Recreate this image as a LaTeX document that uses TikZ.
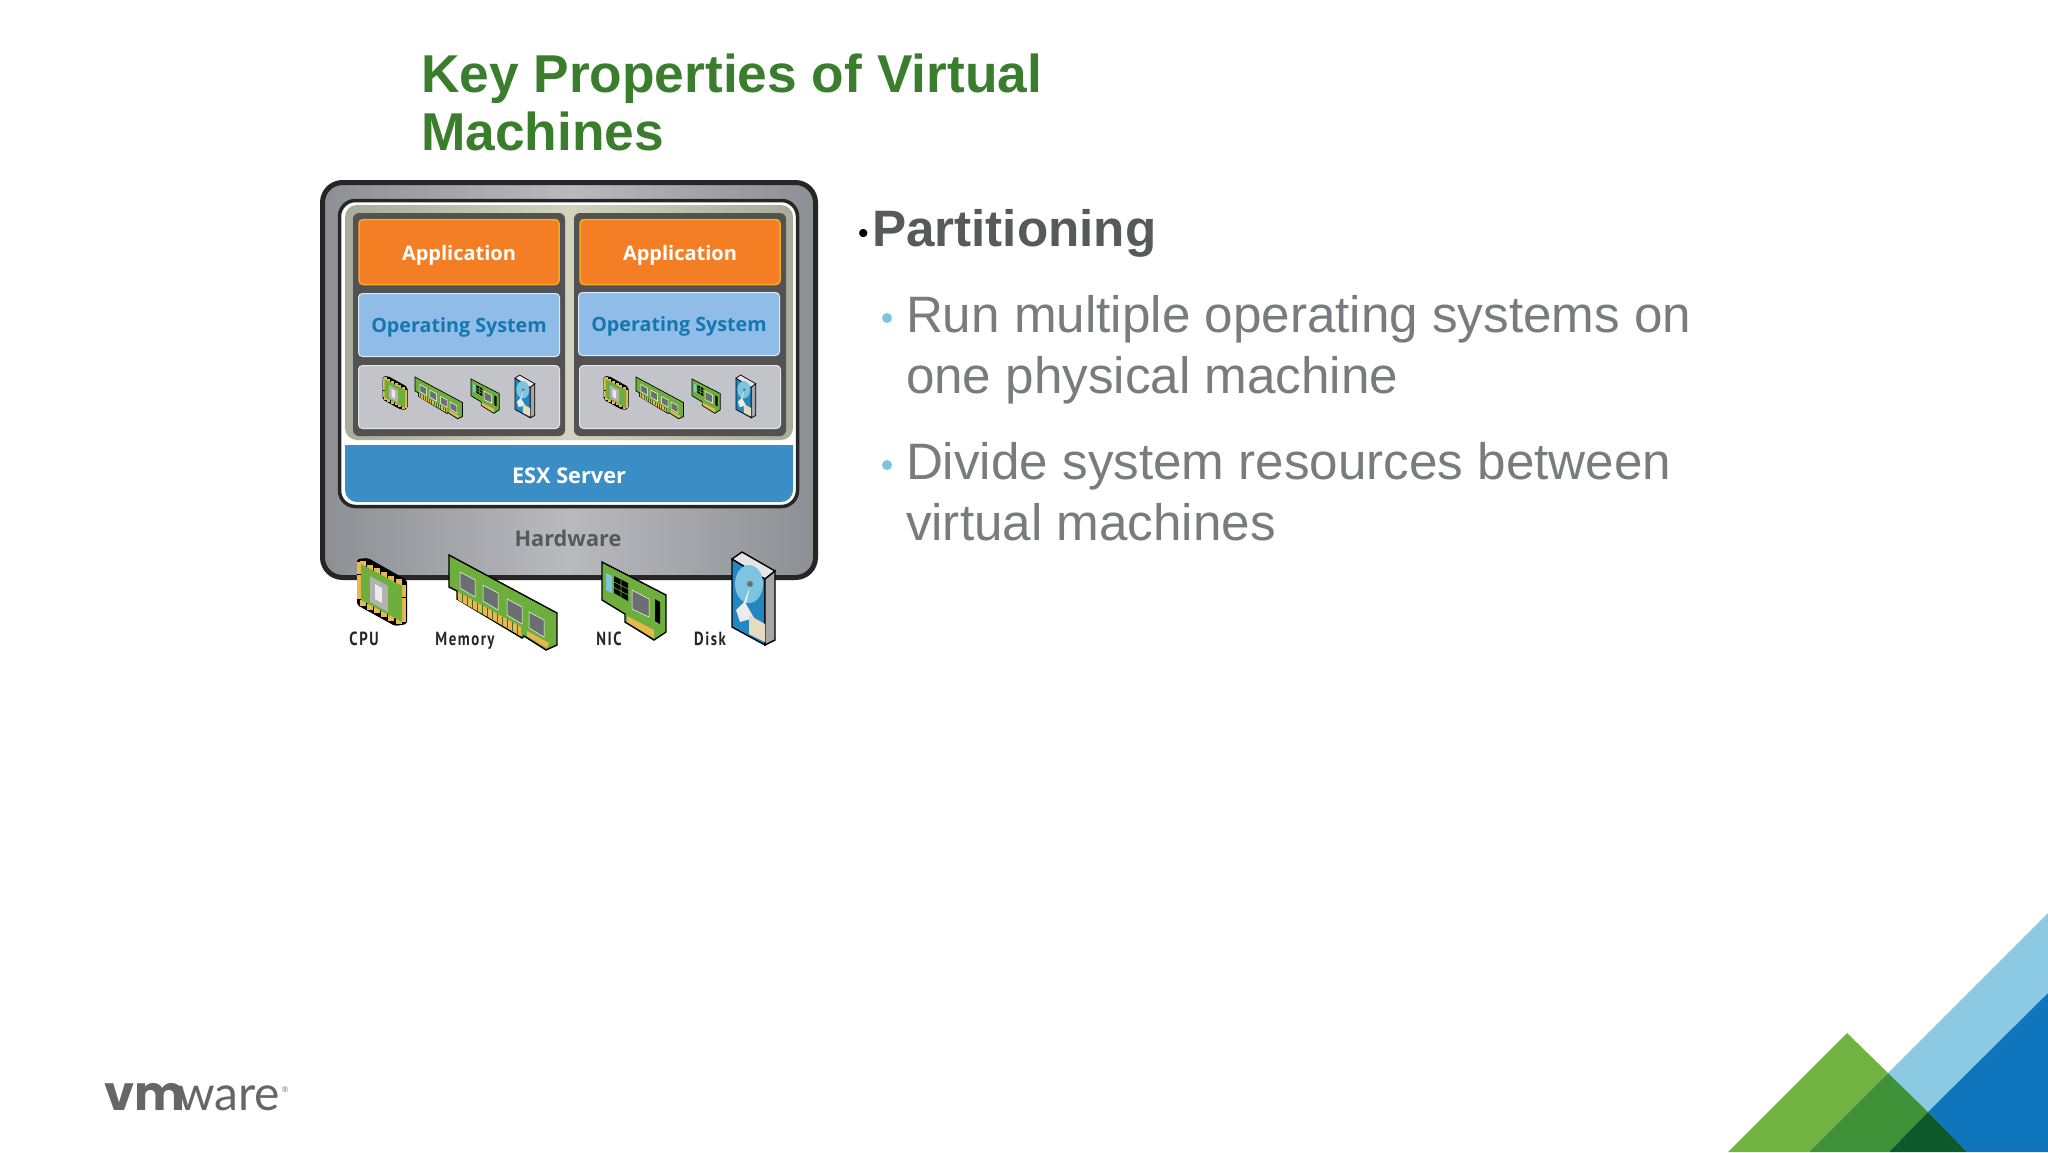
\documentclass[tikz,border=0pt]{standalone}
\usepackage{fontspec}
\setmainfont{Liberation Sans}
\newfontfamily\boxfont{Open Sans}
\newfontfamily\tagfont[FakeStretch=0.78,LetterSpace=8]{PT Sans}
\newfontfamily\logofont{Poppins}
\newfontfamily\logothin{Lato}
\definecolor{titlegreen}{HTML}{3A7D2C}
\definecolor{headgray}{HTML}{58595B}
\definecolor{bodygray}{HTML}{7A7B7E}
\definecolor{bulletblue}{HTML}{7CC4E0}
\definecolor{chipgreen}{HTML}{6DAE3C}
\definecolor{pingold}{HTML}{E8B84E}
\definecolor{chipgray}{HTML}{6B6E72}
\definecolor{diskblue}{HTML}{2388C2}
\definecolor{esxblue}{HTML}{3A8DC5}
\definecolor{frameedge}{HTML}{8C8F94}
\definecolor{framemid}{HTML}{B9BABE}
\definecolor{khakiedge}{HTML}{A9AC9A}
\definecolor{khakimid}{HTML}{D2D3BD}
\definecolor{apporange}{HTML}{F47E24}
\definecolor{appedge}{HTML}{F9A825}
\definecolor{osblue}{HTML}{8FBDE8}
\definecolor{ostext}{HTML}{1577B0}
\definecolor{resgray}{HTML}{C3C4CA}
\definecolor{leafgreen}{HTML}{71B340}
\definecolor{midgreen}{HTML}{3F9237}
\definecolor{deepgreen}{HTML}{0C5A2A}
\definecolor{skyband}{HTML}{8CCAE4}
\definecolor{deepblue}{HTML}{0F75BD}
\def\iconw{1.4pt}
\usetikzlibrary{calc}
\tikzset{
    cpuicon/.pic={
        \fill[black,rounded corners=2pt] (-1,1) -- (10,0) -- (49,22) -- (49,66) -- (37,68) -- (-1,47) -- cycle;
        \foreach \t in {0.08,0.24,0.40,0.56,0.72,0.88} {
            \fill[pingold] ($(1,4)!\t!(46,27)$) +(-3,-3) rectangle +(3,3);
            \fill[pingold] ($(1,43)!\t!(46,66)$) +(-3,-3) rectangle +(3,3);
            \fill[pingold] ($(1,4)!\t!(1,43)$) +(-2,-3) rectangle +(3,3);
            \fill[pingold] ($(46,27)!\t!(46,66)$) +(-3,-3) rectangle +(2,3);
        }
        \fill[chipgreen] (3,6) -- (44,28) -- (44,64) -- (3,42) -- cycle;
        \fill[gray!60] (12,18) -- (30,28) -- (30,54) -- (12,44) -- cycle;
        \fill[gray!15] (17,26) -- (24,30) -- (24,45) -- (17,41) -- cycle;
    },
    memicon/.pic={
        \fill[chipgreen,draw=black,line width=\iconw] (0,0) -- (108,58) -- (108,90) -- (97,95) -- (75,81) -- (73,83) -- (8,44) -- (8,36) -- (0,32) -- cycle;
        \fill[pingold] (9,37) -- (72,72) -- (72,81) -- (9,45) -- cycle;
        \fill[pingold] (78,76) -- (100,88) -- (98,93) -- (78,81) -- cycle;
        \foreach \t in {0.06,0.14,...,0.95} {
            \draw[chipgreen!60!black,line width=0.5pt] ($(9,37)!\t!(72,72)$) -- ($(9,45)!\t!(72,81)$);
        }
        \foreach \i/\j in {0/0,23/13,47/27,69/40} {
            \fill[chipgray,draw=white,line width=0.5pt] (11+\i,17+\j) -- (26+\i,25+\j) -- (26+\i,42+\j) -- (11+\i,33+\j) -- cycle;
        }
    },
    nicicon/.pic={
        \fill[chipgreen,draw=black,line width=\iconw] (0,0) -- (64,33) -- (64,70) -- (52,78) -- (23,60) -- (23,52) -- (0,38) -- cycle;
        \fill[pingold] (25,54) -- (52,68) -- (52,76) -- (25,60) -- cycle;
        \fill[bulletblue] (4,11) -- (10,14) -- (10,31) -- (4,28) -- cycle;
        \fill[black] (12,14) -- (26,21) -- (26,39) -- (12,31) -- cycle;
        \draw[chipgreen,line width=0.6pt] (19,17.5) -- (19,35) (12,20) -- (26,27) (12,25.5) -- (26,33);
        \fill[chipgray,draw=white,line width=0.5pt] (30,28) -- (47,37) -- (47,55) -- (30,47) -- cycle;
        \fill[black] (53,37) -- (58,40) -- (58,62) -- (53,59) -- cycle;
    },
    diskicon/.pic={
        \fill[diskblue,draw=black,line width=\iconw] (0,7) -- (33,27) -- (33,93) -- (0,75) -- cycle;
        \fill[gray!20,draw=black,line width=\iconw] (0,7) -- (10,0) -- (43,19) -- (33,27) -- cycle;
        \fill[gray!70,draw=black,line width=\iconw] (33,27) -- (43,19) -- (43,88) -- (33,93) -- cycle;
        \fill[bulletblue] (17,32) ellipse (14 and 19);
        \fill[chipgray] (18,32) circle (3);
        \fill[gray!15] (18,34) -- (14,52) -- (22,66) -- (8,70) -- (4,58) -- (12,50) -- cycle;
        \fill[gray!35!pingold!40!white] (17,63) -- (33,72) -- (33,90) -- (17,82) -- cycle;
    }
}
\begin{document}
\begin{tikzpicture}[
    x=1pt, y=-1pt,
    slidetext/.style={anchor=base west, inner sep=0pt, outer sep=0pt},
    titletext/.style={slidetext, text=titlegreen, font=\fontsize{53.3}{57}\selectfont\bfseries},
    bodytext/.style={slidetext, text=bodygray, font=\fontsize{51.2}{61}\selectfont},
    dotmark/.style={circle, fill=bulletblue, minimum size=10pt, inner sep=0pt},
    hwframe/.style={rectangle, rounded corners=20pt, draw=black!85, line width=5pt, left color=frameedge, right color=frameedge, middle color=framemid, minimum width=493pt, minimum height=395pt},
    hostframe/.style={rectangle, rounded corners=16pt, draw=black!85, fill=white, line width=3.5pt, minimum width=458pt, minimum height=306pt},
    guestarea/.style={rectangle, rounded corners=12pt, left color=khakiedge, right color=khakiedge, middle color=khakimid, minimum width=448pt, minimum height=235pt},
    vmframe/.style={rectangle, rounded corners=6pt, fill=black!68, minimum width=212pt, minimum height=223pt},
    appbox/.style={rectangle, rounded corners=4pt, draw=appedge, line width=1.5pt, fill=apporange, text=white, font=\boxfont\fontsize{20}{24}\selectfont\bfseries, minimum width=200pt, minimum height=65pt, text height=17pt, text depth=1pt},
    osbox/.style={rectangle, rounded corners=4pt, draw=white!70!osblue, line width=1pt, fill=osblue, text=ostext, font=\boxfont\fontsize{19.7}{24}\selectfont\bfseries, minimum width=201pt, minimum height=63pt, text height=17pt, text depth=2pt},
    resbox/.style={rectangle, rounded corners=4pt, draw=gray!20, line width=1pt, fill=resgray, minimum width=201pt, minimum height=63pt},
    tagtext/.style={text=black!85, font=\tagfont\fontsize{19}{22}\selectfont\bfseries, inner sep=0pt, text height=13pt, text depth=4pt},
    bigtag/.style={font=\boxfont\fontsize{21.7}{24}\selectfont\bfseries, inner sep=0pt, text height=16pt, text depth=5pt}
]
\useasboundingbox (0,0) rectangle (2048,1152);
\fill[white] (0,0) rectangle (2048,1152);

% Titulo
\node[titletext] (title1) at (421,92.5) {Key Properties of Virtual};
\node[titletext] (title2) at (421,150) {Machines};

% Texto
\node[slidetext, font=\fontsize{30}{30}\selectfont] (headdot) at (858,243) {•};
\node[slidetext, text=headgray, font=\fontsize{51.2}{60}\selectfont\bfseries] (head) at (872,246) {Partitioning};
\node[dotmark] (dot1) at (887,318) {};
\node[bodytext] (run1) at (906,332) {Run multiple operating systems on};
\node[bodytext] (run2) at (906,393) {one physical machine};
\node[dotmark] (dot2) at (887,465) {};
\node[bodytext] (div1) at (906,479) {Divide system resources between};
\node[bodytext] (div2) at (906,540) {virtual machines};

% Marco del hardware
\node[hwframe] (hw) at (569,380) {};
\node[hostframe] (host) at (568.5,353.5) {};
\node[guestarea] (guests) at (569,322.5) {};
\fill[esxblue] (345,445) -- (793,445) [rounded corners=12pt] -- (793,502) -- (345,502) [sharp corners] -- cycle;
\node[bigtag, text=black!65] (hwlabel) at (568,541) {Hardware};
\node[bigtag, text=white] (esx) at (569,478) {ESX Server};

% Maquinas virtuales
\node[vmframe] (vma) at (459,324.5) {};
\node[vmframe] (vmb) at (680,324.5) {};
\node[appbox] (appa) at (459,252) {Application};
\node[appbox] (appb) at (680,252) {Application};
\node[osbox] (osa) at (459,325) {Operating System};
\node[osbox] (osb) at (679,324) {Operating System};
\node[resbox] (resa) at (459,397) {};
\node[resbox] (resb) at (680,397) {};

% Iconos
\foreach \dx in {0,221} {
    \def\iconw{0.7pt}
    \pic[xshift=\dx pt, scale=0.5] at (383,376) {cpuicon};
    \pic[xshift=\dx pt, scale=0.44] at (415,377) {memicon};
    \pic[xshift=\dx pt, scale=0.44] at (471,379) {nicicon};
    \pic[xshift=\dx pt, scale=0.46] at (515,375) {diskicon};
}
\pic at (358,558) {cpuicon};
\pic at (449,555) {memicon};
\pic at (602,562) {nicicon};
\pic at (732,552) {diskicon};
\node[tagtext] (cpu) at (364,640.5) {CPU};
\node[tagtext] (mem) at (465,640.5) {Memory};
\node[tagtext] (nic) at (609,640.5) {NIC};
\node[tagtext] (disk) at (710,640.5) {Disk};

% Esquina
\fill[skyband] (1888,1073) -- (2048,913) -- (2048,993) -- (1928,1112) -- cycle;
\fill[deepblue] (1928,1112) -- (2048,993) -- (2048,1152) -- (1967,1152) -- cycle;
\fill[leafgreen] (1847,1033) -- (1888,1073) -- (1809,1152) -- (1728,1152) -- cycle;
\fill[midgreen] (1888,1073) -- (1928,1112) -- (1889,1152) -- (1809,1152) -- cycle;
\fill[deepgreen] (1928,1112) -- (1967,1152) -- (1889,1152) -- cycle;

% Logo
\node[slidetext, text=black!60, font=\logofont\fontsize{48}{48}\selectfont\bfseries] (logovm) at (104,1110) {vm};
\node[slidetext, text=black!60, font=\logothin\fontsize{48}{48}\selectfont] (logoware) at (177,1110) {ware};
\node[slidetext, text=black!60, font=\fontsize{8}{8}\selectfont] (logoreg) at (282,1092) {®};
\end{tikzpicture}
\end{document}
